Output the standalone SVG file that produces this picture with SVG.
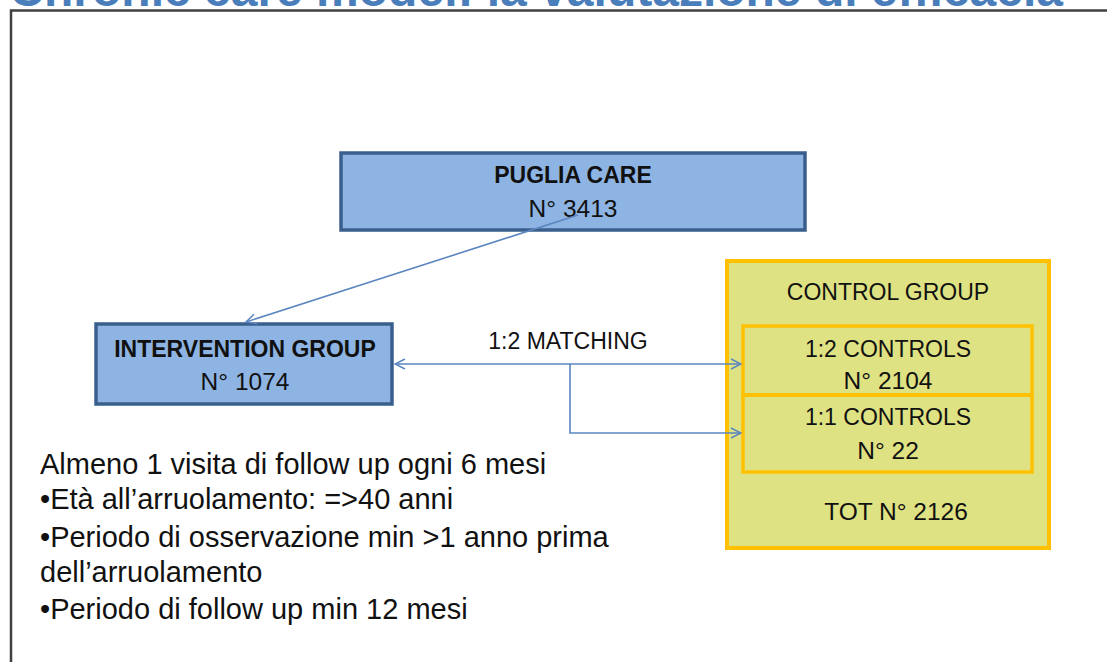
<svg xmlns="http://www.w3.org/2000/svg" width="1107" height="662" viewBox="0 0 1107 662">
<defs>
<marker id="ah" viewBox="0 0 12 12" refX="11" refY="6" markerWidth="12" markerHeight="12" markerUnits="userSpaceOnUse" orient="auto-start-reverse">
<path d="M1,1 L11,6 L1,11" fill="none" stroke="#5B86C0" stroke-width="1.5"/>
</marker>
<style>
.t{font-family:"Liberation Sans",Arial,sans-serif;fill:#111;text-anchor:middle;font-size:23px}
.n{font-size:24.5px}
.b{font-weight:bold}
.blue{fill:#8EB4E3;stroke:#3A5F8D;stroke-width:3.5}
.yel{fill:#DFE283;stroke:#FFC000;stroke-width:4}
.in{fill:none;stroke:#FFC000;stroke-width:3.5}
.c{fill:none;stroke:#5B86C0;stroke-width:1.6}
.note{font-family:"Liberation Sans",Arial,sans-serif;fill:#111;font-size:29px}
</style>
</defs>
<rect width="1107" height="662" fill="#fff"/>
<text x="1063" y="6" text-anchor="end" font-family="Liberation Sans,Arial,sans-serif" font-weight="bold" font-size="48" fill="#4A7EBB">Il Chronic care model: la valutazione di efficacia</text>
<path d="M11,662 V10.5 H1107" fill="none" stroke="#404040" stroke-width="2.5"/>

<g id="puglia">
<rect class="blue" x="341" y="153" width="464" height="77"/>
<text class="t b" x="573" y="183" font-size="22">PUGLIA CARE</text>
<text class="t n" x="573" y="217">N° 3413</text>
</g>

<g id="intervention">
<rect class="blue" x="96" y="324" width="296" height="80"/>
<text class="t b" x="245" y="357" font-size="23.5">INTERVENTION GROUP</text>
<text class="t n" x="245" y="390">N° 1074</text>
</g>

<g id="control">
<rect class="yel" x="727" y="261" width="322" height="287"/>
<text class="t" x="888" y="300">CONTROL GROUP</text>
<text class="t n" x="896" y="520">TOT N° 2126</text>
</g>
<g id="controls12">
<rect class="in" x="743" y="326" width="289" height="69"/>
<text class="t" x="888" y="357">1:2 CONTROLS</text>
<text class="t n" x="888" y="389">N° 2104</text>
</g>
<g id="controls11">
<rect class="in" x="743" y="395" width="289" height="77"/>
<text class="t" x="888" y="425">1:1 CONTROLS</text>
<text class="t n" x="888" y="459">N° 22</text>
</g>

<g id="connectors">
<line class="c" x1="578" y1="215" x2="246" y2="322" marker-end="url(#ah)"/>
<line class="c" x1="395" y1="364" x2="741" y2="364" marker-start="url(#ah)" marker-end="url(#ah)"/>
<polyline class="c" points="570,364 570,433 741,433" marker-end="url(#ah)"/>
<text class="t" x="568" y="349" font-size="24">1:2 MATCHING</text>
</g>

<g id="notes">
<text class="note" x="40" y="474">Almeno 1 visita di follow up ogni 6 mesi</text>
<text class="note" x="40" y="509">•Età all’arruolamento: =&gt;40 anni</text>
<text class="note" x="40" y="547">•Periodo di osservazione min &gt;1 anno prima</text>
<text class="note" x="40" y="582">dell’arruolamento</text>
<text class="note" x="40" y="619">•Periodo di follow up min 12 mesi</text>
</g>
</svg>
